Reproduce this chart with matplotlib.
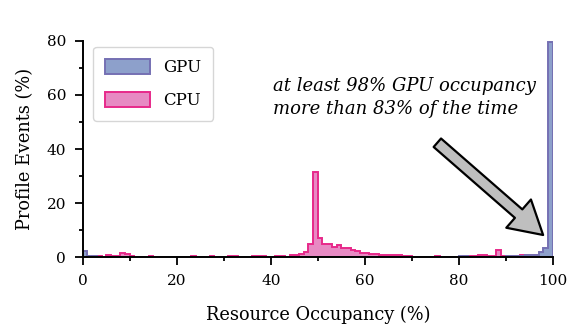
import numpy as np
import matplotlib.pyplot as plt

plt.rcParams['font.family'] = ['DejaVu Serif']

# histogram bins: 1% wide, 0..100
bin_edges = np.arange(0, 101)

# CPU occupancy (% of profile events per bin)
cpu = [0.2, 0.1, 0.3, 0.3, 0.2, 0.6, 0.4, 0.5, 1.5, 1.3,
       0.3, 0.2, 0.2, 0.2, 0.3, 0.2, 0.2, 0.2, 0.2, 0.2,
       0.2, 0.1, 0.2, 0.3, 0.2, 0.2, 0.1, 0.3, 0.2, 0.2,
       0.2, 0.4, 0.4, 0.2, 0.2, 0.2, 0.4, 0.4, 0.3, 0.2,
       0.2, 0.3, 0.3, 0.2, 0.8, 0.8, 1.3, 1.8, 5.0, 31.5,
       7.0, 4.7, 4.7, 3.8, 4.4, 3.3, 3.5, 2.8, 2.2, 1.5,
       1.5, 1.0, 1.0, 0.7, 0.6, 0.6, 0.6, 0.7, 0.5, 0.4,
       0.2, 0.1, 0.1, 0.2, 0.2, 0.3, 0.2, 0.1, 0.2, 0.2,
       0.2, 0.3, 0.4, 0.3, 0.6, 0.7, 0.5, 0.5, 2.5, 0.4,
       0.3, 0.3, 0.4, 0.7, 0.8, 0.8, 0.8, 0.3, 0.3, 0.3]

# GPU occupancy
gpu = [2.2, 0.3, 0.3, 0.2, 0.1, 0.1, 0.1, 0.1, 0.1, 0.1,
       0.1, 0.1, 0.1, 0.1, 0.1, 0.1, 0.1, 0.1, 0.1, 0.1,
       0.1, 0.1, 0.1, 0.1, 0.1, 0.1, 0.1, 0.1, 0.1, 0.1,
       0.1, 0.1, 0.1, 0.1, 0.1, 0.1, 0.1, 0.1, 0.1, 0.1,
       0.1, 0.1, 0.1, 0.1, 0.1, 0.1, 0.1, 0.1, 0.1, 0.1,
       0.1, 0.1, 0.1, 0.1, 0.1, 0.1, 0.1, 0.1, 0.1, 0.1,
       0.1, 0.1, 0.1, 0.1, 0.1, 0.1, 0.1, 0.1, 0.1, 0.1,
       0.1, 0.1, 0.1, 0.1, 0.1, 0.1, 0.1, 0.1, 0.1, 0.1,
       0.4, 0.4, 0.2, 0.2, 0.2, 0.2, 0.2, 0.2, 0.2, 0.2,
       0.5, 0.5, 0.4, 0.5, 0.6, 0.6, 0.7, 1.8, 3.5, 79.5]

centers = bin_edges[:-1] + 0.5

fig = plt.figure(figsize=(5.71, 3.33), dpi=100)
ax = fig.add_axes([0.145, 0.228, 0.823, 0.649])

ax.hist(centers, bins=bin_edges, weights=cpu, histtype='stepfilled',
        facecolor='#e78ac3', edgecolor='#e7298a', linewidth=1.4, label='CPU')
ax.hist(centers, bins=bin_edges, weights=gpu, histtype='stepfilled',
        facecolor='#8da0cb', edgecolor='#7570b3', linewidth=1.4, label='GPU')

ax.set_xlim(0, 100)
ax.set_ylim(0, 80)
ax.set_xticks([0, 20, 40, 60, 80, 100])
ax.set_xticks(np.arange(10, 100, 20), minor=True)
ax.set_yticks([0, 20, 40, 60, 80])
ax.set_yticks([10, 30, 50, 70], minor=True)
ax.tick_params(labelsize=11, width=1.3, length=6, pad=6)
ax.tick_params(which='minor', width=1.3, length=3)
for s in ['top', 'right']:
    ax.spines[s].set_visible(False)
for s in ['left', 'bottom']:
    ax.spines[s].set_linewidth(1.4)

ax.set_xlabel('Resource Occupancy (%)', fontsize=12.8, labelpad=13)
ax.set_ylabel('Profile Events (%)', fontsize=12.8, labelpad=9)

h, l = ax.get_legend_handles_labels()
ax.legend(h[::-1], l[::-1], loc='upper left', bbox_to_anchor=(0.005, 1.01),
          fontsize=12, handlelength=2.7, handleheight=1.0, fancybox=True,
          edgecolor='#cccccc', borderpad=0.7, labelspacing=0.95)

ax.annotate('', xy=(98.4, 7.5), xytext=(75, 43),
            arrowprops=dict(arrowstyle='simple,head_length=1.3,head_width=1.5,tail_width=0.45',
                            mutation_scale=18, facecolor='#bfbfbf', edgecolor='black', lw=1.6))
ax.text(40.5, 66.5, 'at least 98% GPU occupancy\nmore than 83% of the time',
        ha='left', va='top', fontsize=13, style='italic', linespacing=1.3)

plt.savefig('out.png')
